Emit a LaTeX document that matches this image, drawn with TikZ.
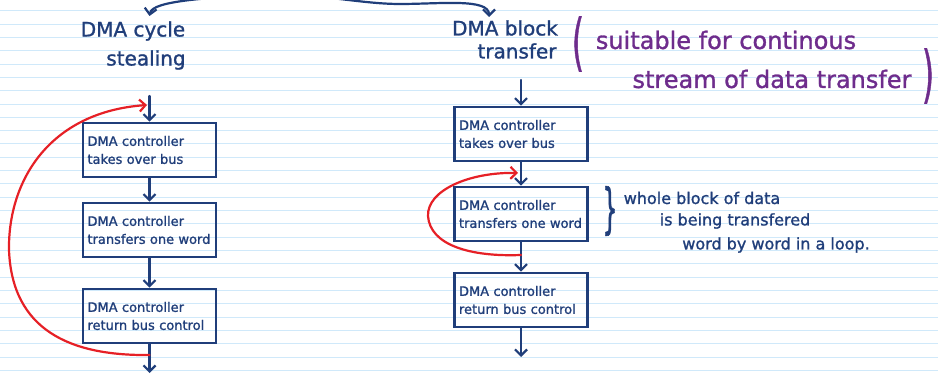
\documentclass[tikz,border=0pt]{standalone}
\usepackage{fontspec}
\setmainfont{DejaVu Sans}[FakeBold=1.2]
\usetikzlibrary{arrows.meta}
\definecolor{ink}{RGB}{32,62,122}
\definecolor{pen}{RGB}{230,32,38}
\definecolor{violet}{RGB}{110,44,140}
\definecolor{ruling}{RGB}{208,233,250}
\begin{document}
\begin{tikzpicture}[x=1pt,y=-1pt,
  flow/.style={draw=ink, line width=2.2pt, line cap=round,
    -{Straight Barb[length=6pt,width=12pt,line width=2.2pt]}},
  redloop/.style={draw=pen, line width=2.2pt, line cap=round,
    -{Straight Barb[length=6pt,width=12pt,line width=2.2pt]}},
  stepbox/.style={draw=ink, line width=2.6pt, minimum width=133pt,
    minimum height=54pt, inner sep=0pt, text=ink, text width=124pt,
    align=left, font=\fontsize{13}{18}\selectfont},
  heading/.style={text=ink, inner sep=0pt, font=\fontsize{20}{24}\selectfont},
  aside/.style={text=violet, inner sep=0pt, font=\fontsize{24}{28}\selectfont},
  remark/.style={text=ink, inner sep=0pt, font=\fontsize{16}{20}\selectfont}]

\useasboundingbox (0,0) rectangle (938,374);
\clip (0,0) rectangle (938,374);
\fill[white] (0,0) rectangle (938,374);

% ruled paper
\foreach \k in {0,...,27}{
  \pgfmathsetmacro{\yy}{10.7+13.33*\k}
  \draw[ruling, line width=1pt] (0,\yy) -- (938,\yy);
}

% headings
\node[heading] (lt1) at (133,31) {DMA cycle};
\node[heading] (lt2) at (146,60) {stealing};
\node[heading] (rt1) at (505,28) {DMA block};
\node[heading] (rt2) at (517,51) {transfer};

% split from above
\coordinate (apex) at (282,-7);
\coordinate (lhead) at (149.5,16);
\coordinate (rhead) at (489,17);
\draw[flow] (apex) .. controls (210,-2) and (152,0) .. (lhead);
\draw[flow] (apex) .. controls (340,-2) and (370,4) .. (400,4)
  .. controls (440,4) and (489,-2) .. (rhead);

% purple side note
\node[aside] (po) at (578,44) {\scalebox{0.5}[1]{\fontsize{62}{62}\selectfont(}};
\node[aside] (n1) at (726,40) {suitable for continous};
\node[aside] (n2) at (772,79) {stream of data transfer};
\node[aside] (pc) at (928,76) {\scalebox{0.5}[1]{\fontsize{62}{62}\selectfont)}};

% cycle stealing column
\node[stepbox] (L1) at (149.5,150) {DMA controller\\takes over bus};
\node[stepbox] (L2) at (149.5,230) {DMA controller\\transfers one word};
\node[stepbox] (L3) at (149.5,316) {DMA controller\\return bus control};
\coordinate (lin) at (149.5,96);
\coordinate (lout) at (149.5,373);
\draw[flow] (lin) -- (L1);
\draw[flow] (L1) -- (L2);
\draw[flow] (L2) -- (L3);
\draw[flow] (L3) -- (lout);

% block transfer column
\node[stepbox] (R1) at (521,134) {DMA controller\\takes over bus};
\node[stepbox] (R2) at (521,214) {DMA controller\\transfers one word};
\node[stepbox] (R3) at (521,300) {DMA controller\\return bus control};
\coordinate (rin) at (521,80);
\coordinate (rout) at (521,357);
\draw[flow] (rin) -- (R1);
\draw[flow] (R1) -- (R2);
\draw[flow] (R2) -- (R3);
\draw[flow] (R3) -- (rout);

% red loops
\coordinate (lls) at (149.5,355);
\coordinate (llt) at (147,105);
\draw[redloop] (lls) .. controls (70,356) and (12,330) .. (9,250)
  .. controls (8,180) and (50,112) .. (llt);
\coordinate (rls) at (521,255);
\coordinate (rlt) at (518,173);
\draw[redloop] (rls) .. controls (470,257) and (430,245) .. (428,216)
  .. controls (427,190) and (470,172) .. (rlt);

% brace note
\node[remark] (br) at (610,211) {\scalebox{0.45}[1]{\fontsize{54}{54}\selectfont\}}};
\node[remark] (w1) at (702,198) {whole block of data};
\node[remark] (w2) at (735,221) {is being transfered};
\node[remark] (w3) at (776,245) {word by word in a loop.};
\end{tikzpicture}
\end{document}
